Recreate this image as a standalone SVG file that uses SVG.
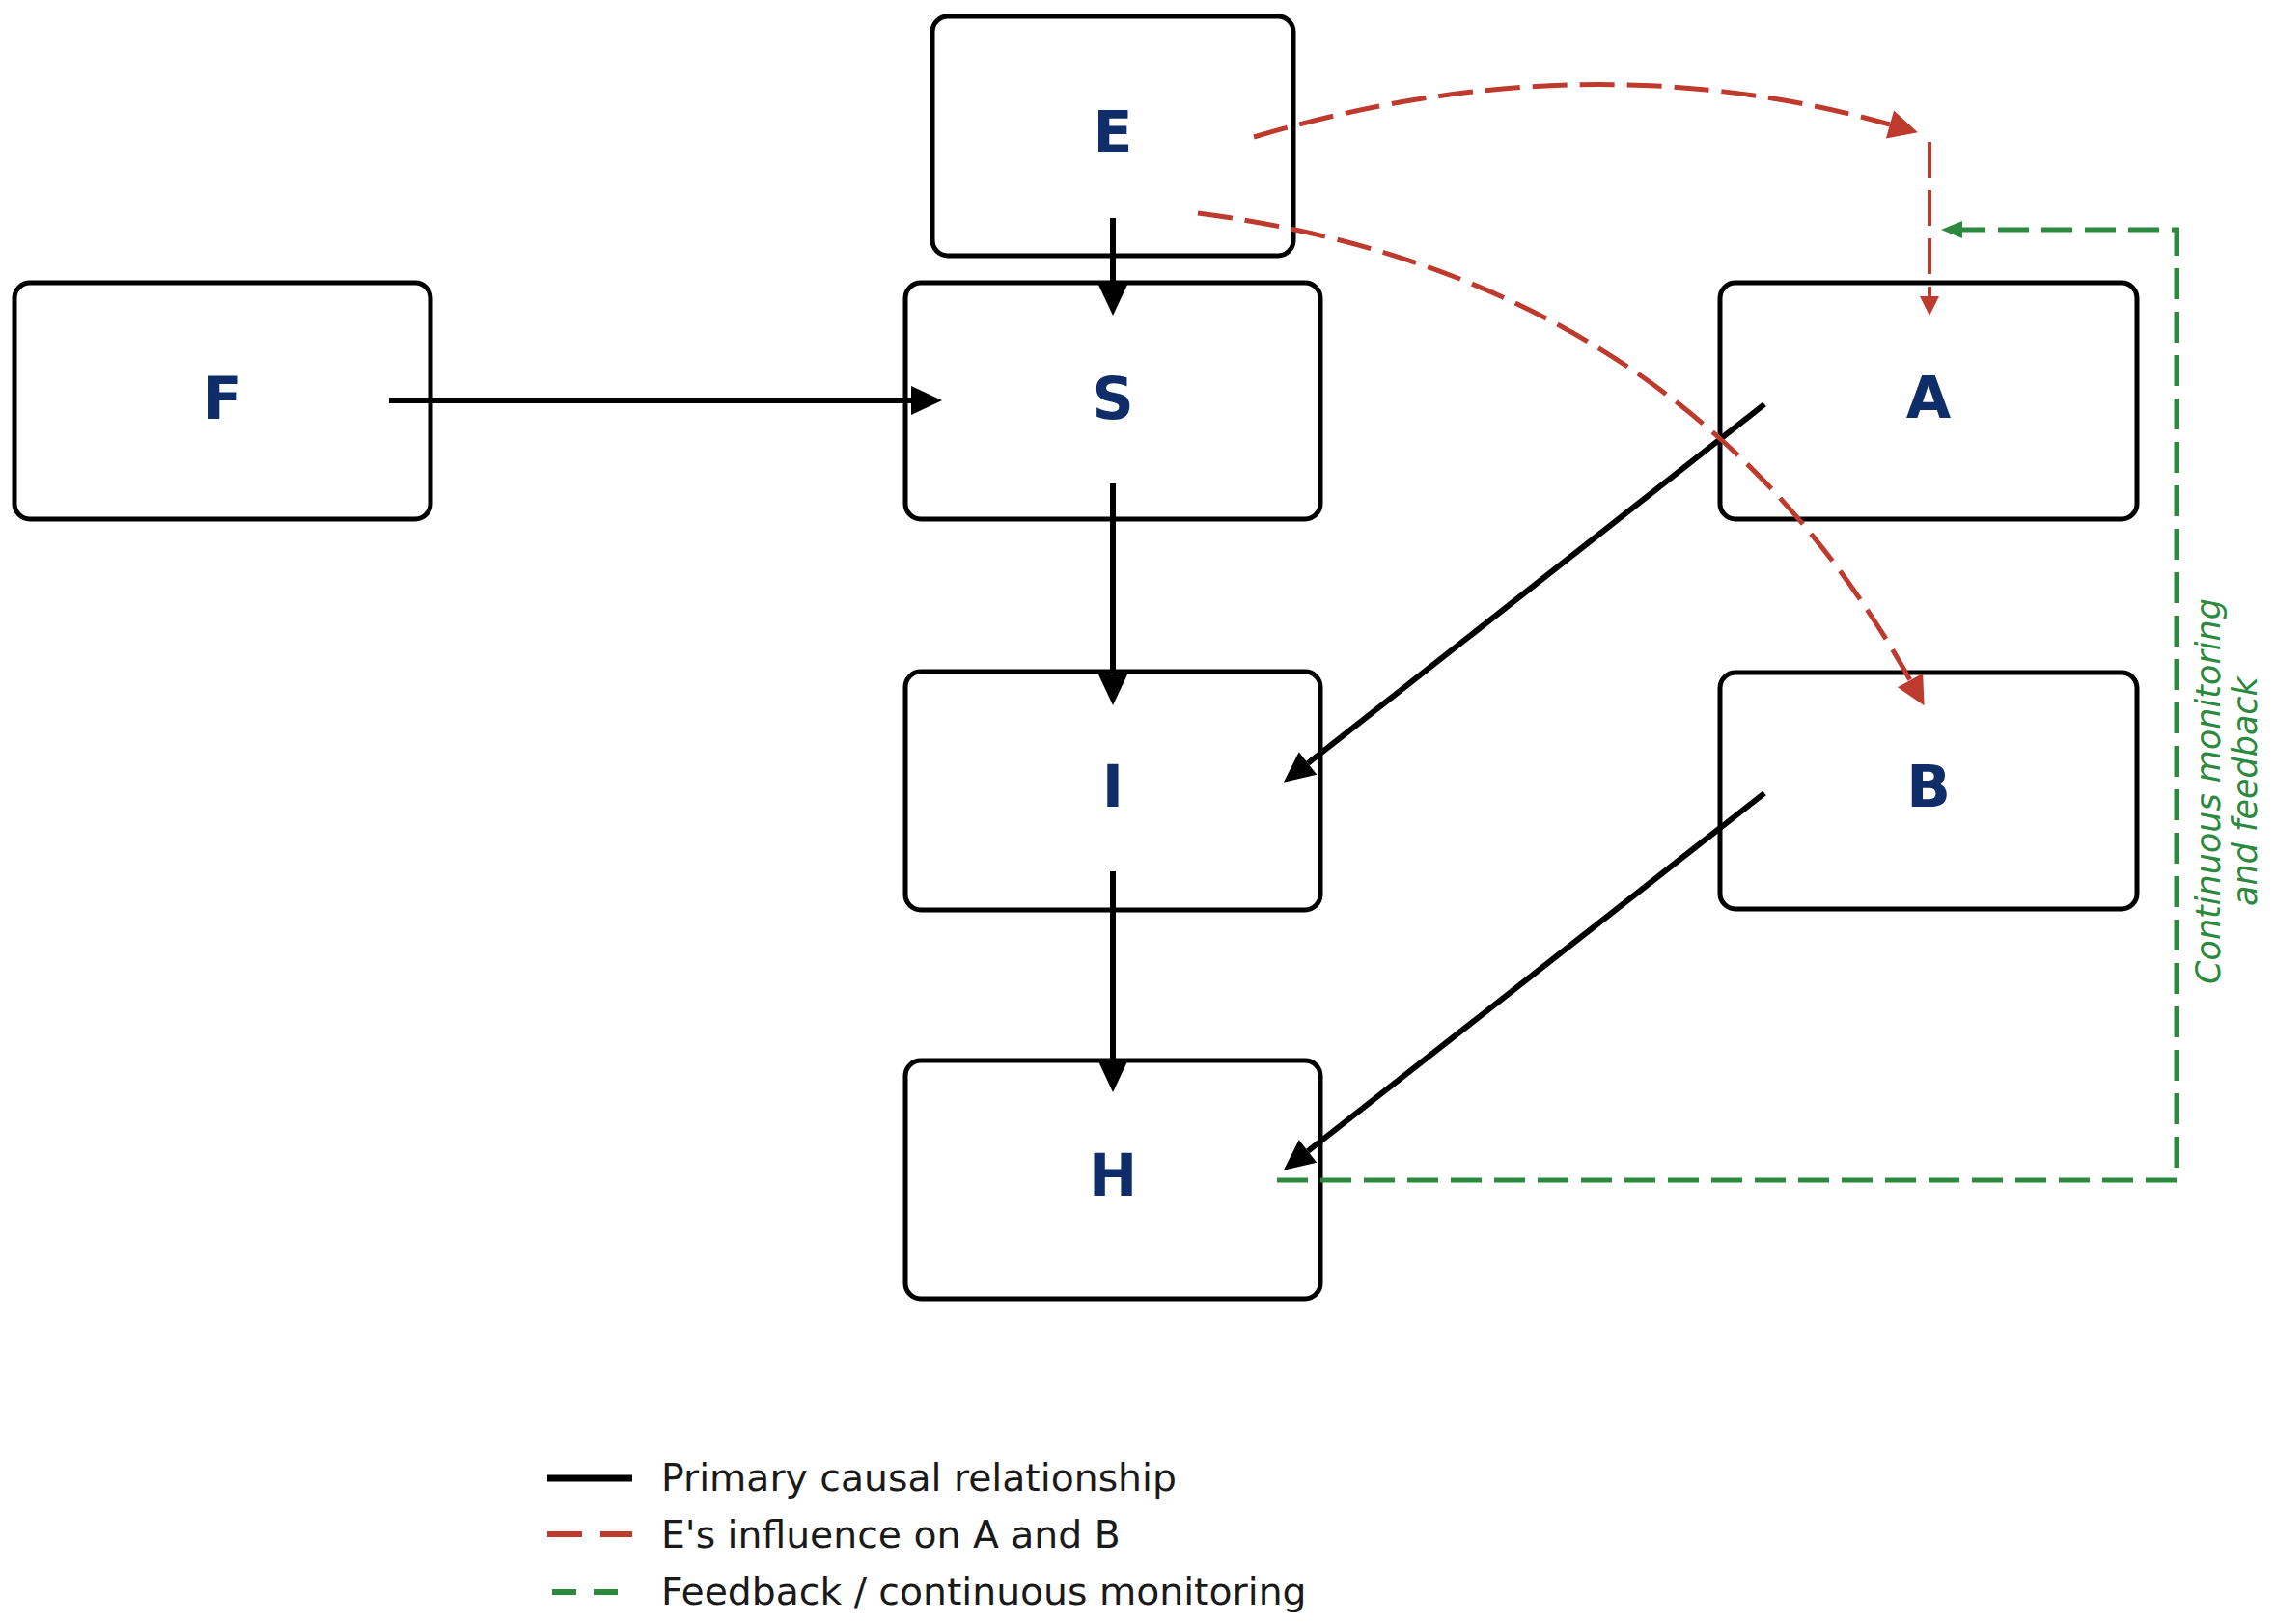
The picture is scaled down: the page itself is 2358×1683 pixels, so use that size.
<svg xmlns="http://www.w3.org/2000/svg" width="2358" height="1683" viewBox="0 0 2358 1683">
<style>
  .box { fill: #ffffff; stroke: #000000; stroke-width: 5; }
  .lbl { font-family: "DejaVu Sans", "Liberation Sans", sans-serif; font-weight: bold; font-size: 60px; fill: #0f2d69; text-anchor: middle; }
  .blk { fill: none; stroke: #000000; stroke-width: 6; }
  .red { fill: none; stroke: #bd3a2d; stroke-width: 5; stroke-dasharray: 36 13; }
  .redthin { fill: none; stroke: #bd3a2d; stroke-width: 4; stroke-dasharray: 37 13; }
  .grn { fill: none; stroke: #2b8a3e; stroke-width: 5; stroke-dasharray: 32 13; }
  .leg { font-family: "DejaVu Sans", "Liberation Sans", sans-serif; font-size: 39.3px; fill: #1a1a1a; }
  .note { font-family: "DejaVu Sans", "Liberation Sans", sans-serif; font-style: italic; font-size: 35px; fill: #2b8a3e; text-anchor: middle; }
</style>
<defs>
  <marker id="ab" markerUnits="userSpaceOnUse" markerWidth="40" markerHeight="40" viewBox="-2 -20 40 40" refX="0" refY="0" orient="auto" overflow="visible">
    <path d="M0,-15 L32,0 L0,15 z" fill="#000000"/>
  </marker>
  <marker id="ar" markerUnits="userSpaceOnUse" markerWidth="40" markerHeight="40" viewBox="-2 -20 40 40" refX="0" refY="0" orient="auto" overflow="visible">
    <path d="M0,-15 L30,0 L0,15 z" fill="#bd3a2d"/>
  </marker>
  <marker id="ars" markerUnits="userSpaceOnUse" markerWidth="30" markerHeight="30" viewBox="-2 -15 30 30" refX="0" refY="0" orient="auto" overflow="visible">
    <path d="M0,-10 L20,0 L0,10 z" fill="#bd3a2d"/>
  </marker>
  <marker id="ag" markerUnits="userSpaceOnUse" markerWidth="30" markerHeight="30" viewBox="-2 -15 30 30" refX="0" refY="0" orient="auto" overflow="visible">
    <path d="M0,-9 L22,0 L0,9 z" fill="#2b8a3e"/>
  </marker>
</defs>
<rect width="2358" height="1683" fill="#ffffff"/>

<g id="node-E"><rect class="box" x="966" y="17" width="374" height="248" rx="16"/><text class="lbl" x="1153" y="158">E</text></g>
<g id="node-F"><rect class="box" x="15" y="293" width="431" height="245" rx="16"/><text class="lbl" x="231" y="434">F</text></g>
<g id="node-S"><rect class="box" x="938" y="293" width="430" height="245" rx="16"/><text class="lbl" x="1153" y="434">S</text></g>
<g id="node-A"><rect class="box" x="1782" y="293" width="432" height="245" rx="16"/><text class="lbl" x="1998" y="433">A</text></g>
<g id="node-I"><rect class="box" x="938" y="696" width="430" height="247" rx="16"/><text class="lbl" x="1153" y="836">I</text></g>
<g id="node-B"><rect class="box" x="1782" y="697" width="432" height="245" rx="16"/><text class="lbl" x="1998" y="836">B</text></g>
<g id="node-H"><rect class="box" x="938" y="1099" width="430" height="247" rx="16"/><text class="lbl" x="1153" y="1239">H</text></g>

<g id="connectors">
  <path class="blk" d="M1153,226 L1153,295" marker-end="url(#ab)"/>
  <path class="blk" d="M403,415 L944,415" marker-end="url(#ab)"/>
  <path class="blk" d="M1153,501 L1153,699" marker-end="url(#ab)"/>
  <path class="blk" d="M1153,903 L1153,1100" marker-end="url(#ab)"/>
  <path class="blk" d="M1828,419 L1355,791" marker-end="url(#ab)"/>
  <path class="blk" d="M1828,822 L1355,1193" marker-end="url(#ab)"/>
  <path class="red" d="M1299,142 Q1642,40 1958,129" marker-end="url(#ar)"/>
  <path class="red" d="M1241,221 Q1746,286 1979,705" marker-end="url(#ar)"/>
  <path class="redthin" d="M1999,147 L1999,307" marker-end="url(#ars)"/>
  <path class="grn" d="M1323,1223 L2255,1223 L2255,238 L2033,238" marker-end="url(#ag)"/>
</g>

<g id="feedback-label" transform="translate(2300,820) rotate(-90)">
  <text class="note" x="0" y="0">Continuous monitoring</text>
  <text class="note" x="0" y="38">and feedback</text>
</g>

<g id="legend">
  <line x1="567" y1="1532" x2="655" y2="1532" stroke="#000000" stroke-width="7"/>
  <line x1="567" y1="1590" x2="655" y2="1590" stroke="#bd3a2d" stroke-width="6" stroke-dasharray="36 19"/>
  <line x1="572" y1="1650" x2="645" y2="1650" stroke="#2b8a3e" stroke-width="6" stroke-dasharray="25 18"/>
  <text class="leg" x="685" y="1545">Primary causal relationship</text>
  <text class="leg" x="685" y="1604">E's influence on A and B</text>
  <text class="leg" x="685" y="1663">Feedback / continuous monitoring</text>
</g>
</svg>
